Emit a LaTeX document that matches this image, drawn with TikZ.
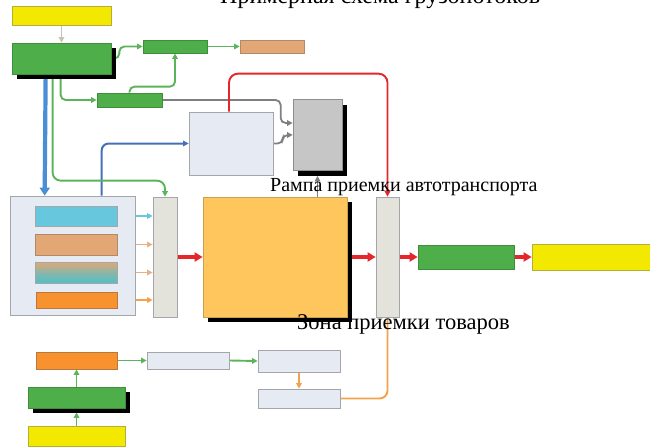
\documentclass[tikz,border=0pt]{standalone}
\usepackage{fontspec}
\setmainfont{Liberation Serif}
\usetikzlibrary{arrows.meta,calc,shadows,backgrounds}
\definecolor{cYellow}{HTML}{F3E800}
\definecolor{cYellowD}{HTML}{B5AE3A}
\definecolor{cGreen}{HTML}{4EAE4A}
\definecolor{cGreenD}{HTML}{3E8E3B}
\definecolor{cTan}{HTML}{E3A776}
\definecolor{cTanD}{HTML}{B08A6A}
\definecolor{cPale}{HTML}{E6EAF2}
\definecolor{cPaleD}{HTML}{A4A6AA}
\definecolor{cNarrow}{HTML}{E3E3DB}
\definecolor{cGray}{HTML}{C6C6C6}
\definecolor{cGrayD}{HTML}{8E8E8E}
\definecolor{cBigOr}{HTML}{FFC65E}
\definecolor{cBigOrD}{HTML}{C9A050}
\definecolor{cOrange}{HTML}{F7922F}
\definecolor{cOrangeD}{HTML}{B87840}
\definecolor{cCyan}{HTML}{67C7DC}
\definecolor{cTeal}{HTML}{4FC0C8}
\definecolor{cRed}{HTML}{E5262A}
\definecolor{cArrG}{HTML}{5BB45A}
\definecolor{cBlueT}{HTML}{4A8FD6}
\definecolor{cBlueD}{HTML}{4470B8}
\definecolor{cGrayL}{HTML}{7F7F7F}
\definecolor{cGrayLL}{HTML}{C9C2B4}
\definecolor{cOrL}{HTML}{F4A24A}
\definecolor{cTanL}{HTML}{E6B088}
\begin{document}
\begin{tikzpicture}[x=1pt,y=-1pt,
  bx/.style={rectangle, inner sep=0pt, line width=0.7pt},
  ybox/.style={bx, fill=cYellow, draw=cYellowD},
  gbox/.style={bx, fill=cGreen, draw=cGreenD},
  tbox/.style={bx, fill=cTan, draw=cTanD},
  pbox/.style={bx, fill=cPale, draw=cPaleD},
  nbox/.style={bx, fill=cNarrow, draw=cPaleD},
  grbox/.style={bx, fill=cGray, draw=cGrayD},
  obox/.style={bx, fill=cOrange, draw=cOrangeD},
  bobox/.style={bx, fill=cBigOr, draw=cBigOrD},
  cbox/.style={bx, fill=cCyan, draw=cPaleD},
  shd/.style={drop shadow={shadow xshift=5pt, shadow yshift=-5pt, fill=black, opacity=1}},
  tip/.style={-{Triangle[length=5.5pt,width=5.5pt]}},
  ga/.style={tip, draw=cArrG, line width=1.9pt, rounded corners=5pt},
  graya/.style={tip, draw=cGrayL, line width=1.8pt, rounded corners=5pt},
  reda/.style={-{Triangle[length=8pt,width=9pt]}, draw=cRed, line width=3.2pt},
  lbl/.style={inner sep=0pt, anchor=base west}
]
\useasboundingbox (0,0) rectangle (650,447);

% texts
\node[lbl, font=\fontsize{24}{26}\selectfont] (title) at (220,4) {Примерная схема грузопотоков};

% top group
\node[ybox, minimum width=99pt, minimum height=19pt] (y1) at (61.5,15.5) {};
\node[gbox, shd, minimum width=99pt, minimum height=31pt] (g1) at (61.5,58.5) {};
\node[gbox, minimum width=64pt, minimum height=13pt] (g2) at (175,46.5) {};
\node[tbox, minimum width=64pt, minimum height=13pt] (t1) at (272,46.5) {};
\node[gbox, minimum width=65pt, minimum height=14pt] (g3) at (129.5,100) {};
\node[pbox, minimum width=84pt, minimum height=63pt] (lb) at (231,143.5) {};
\node[grbox, shd, minimum width=49pt, minimum height=71pt] (gb) at (317.5,135) {};

% warehouse
\node[pbox, minimum width=125pt, minimum height=119pt] (wh) at (72.5,255.5) {};
\node[cbox, minimum width=82pt, minimum height=20pt] (c1) at (76,216) {};
\node[tbox, minimum width=82pt, minimum height=21pt] (c2) at (76,244.5) {};
\node[bx, draw=cPaleD, top color=cTan, bottom color=cTeal, middle color=cTeal!60!cTan, minimum width=82pt, minimum height=21pt] (c3) at (76,272.5) {};
\node[obox, minimum width=81pt, minimum height=16pt] (c4) at (76.5,300) {};

\node[nbox, minimum width=24pt, minimum height=120pt] (n1) at (165,257) {};
\node[bobox, shd, minimum width=144pt, minimum height=120pt] (bo) at (275,257) {};
\node[nbox, minimum width=23pt, minimum height=120pt] (n2) at (387.5,257) {};
\node[gbox, minimum width=96pt, minimum height=24pt] (g4) at (466,257) {};
\node[ybox, minimum width=124pt, minimum height=26pt] (y2) at (594,257) {};

% bottom group
\node[obox, minimum width=81pt, minimum height=17pt] (o5) at (76.5,360.5) {};
\node[pbox, minimum width=82pt, minimum height=17pt] (p1) at (188,360.5) {};
\node[pbox, minimum width=82pt, minimum height=22pt] (p2) at (299,361) {};
\node[pbox, minimum width=82pt, minimum height=19pt] (p3) at (299,398.5) {};
\node[gbox, shd, minimum width=97pt, minimum height=21pt] (g5) at (76.5,397.5) {};
\node[ybox, minimum width=97pt, minimum height=20pt] (y3) at (76.5,436) {};

\node[lbl, font=\fontsize{20}{22}\selectfont] (ramp) at (270,191) {Рампа приемки автотранспорта};
\node[lbl, font=\fontsize{22.5}{24}\selectfont] (zona) at (297,329) {Зона приемки товаров};

\begin{scope}[on background layer]
  % top
  \draw[tip, draw=cGrayLL, line width=1.8pt] (y1.south) -- (g1.north);
  \draw[ga] (g1.east) -- ++(8,0) |- (g2.west);
  \draw[ga] (g2.east) -- (t1.west);
  \draw[ga] ($(g1.south west)+(49,0)$) |- (g3.west);
  \draw[ga] (g3.north) -- ++(0,-6) -| (g2.south);
  \draw[graya] (g3.east) -| ($(gb.west)+(-12,-12)$) -- ($(gb.west)+(0,-12)$);
  \draw[graya] (lb.east) -| ($(gb.west)+(-10,0)$) -- (gb.west);
  \draw[-{Triangle[length=6pt,width=6pt]}, draw=cRed, line width=1.9pt, rounded corners=9pt]
    ($(lb.north)+(-2,0)$) -- ++(0,-38) -| (n2.north);
  \draw[tip, draw=cBlueD, line width=2pt, rounded corners=7pt]
    ($(wh.north west)+(92,0)$) |- (lb.west);
  \draw[-{Triangle[length=8pt,width=10pt]}, draw=cBlueT, line width=4.2pt]
    ($(g1.south west)+(34,0)$) -- ($(wh.north west)+(35,0)$);
  \draw[ga, rounded corners=8pt] ($(g1.south west)+(41,0)$) |- ($(n1.north)+(0,-16)$) -- (n1.north);
  \draw[graya] ($(bo.north -| gb.south)$) -- ($(gb.south)+(0,5)$);
  % warehouse
  \draw[tip, draw=cCyan, line width=1.8pt] (c1.east) -- (c1.east -| n1.west);
  \draw[tip, draw=cTanL, line width=1.8pt] (c2.east) -- (c2.east -| n1.west);
  \draw[tip, draw=cTanL, line width=1.8pt] (c3.east) -- (c3.east -| n1.west);
  \draw[tip, draw=cOrL, line width=1.8pt] (c4.east) -- (c4.east -| n1.west);
  % red flow
  \draw[reda] (n1.east) -- (bo.west);
  \draw[reda] (bo.east) -- (n2.west);
  \draw[reda] (n2.east) -- (g4.west);
  \draw[reda] (g4.east) -- (y2.west);
  % bottom
  \draw[ga] (y3.north) -- ($(g5.south)+(0,4)$);
  \draw[ga] (g5.north) -- (o5.south);
  \draw[ga] (o5.east) -- (p1.west);
  \draw[ga] (p1.east) -- (p2.west);
  \draw[tip, draw=cOrL, line width=1.8pt] (p2.south) -- (p3.north);
  \draw[draw=cOrL, line width=1.9pt, rounded corners=8pt] (p3.east) -| (n2.south);
\end{scope}
\end{tikzpicture}
\end{document}
